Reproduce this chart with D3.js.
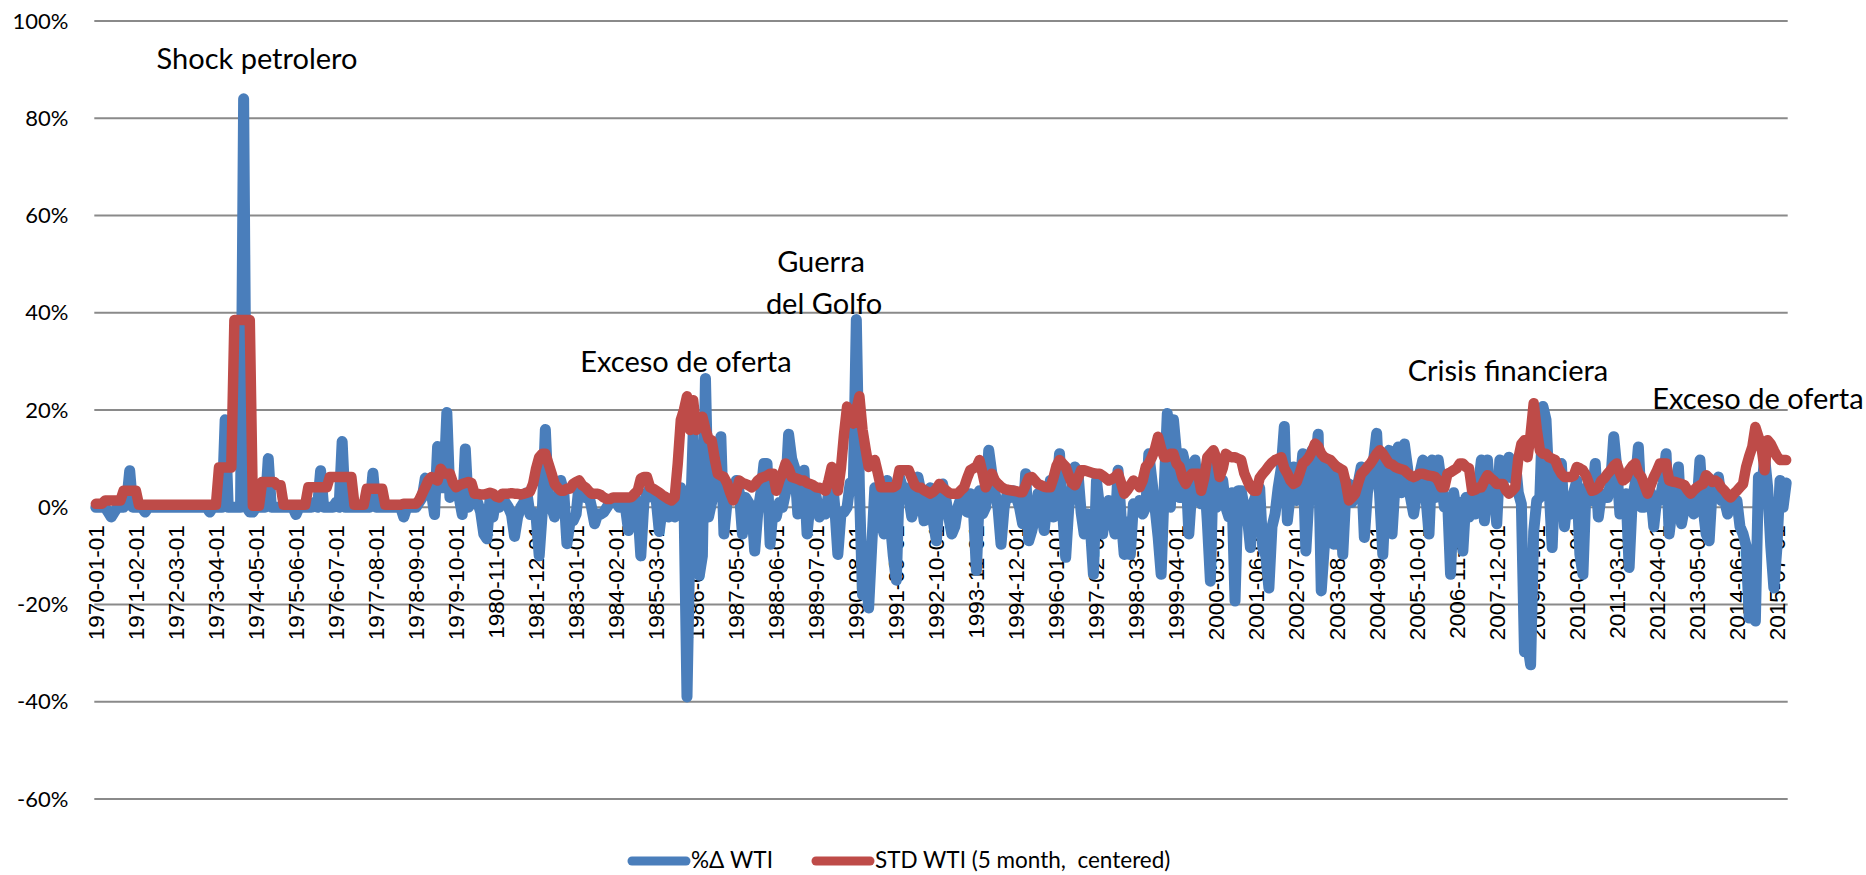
<!DOCTYPE html>
<html>
<head>
<meta charset="utf-8">
<script src="https://cdn.jsdelivr.net/npm/d3@7"></script>
<style>
body { margin: 0; background: #fff; }
svg { display: block; }
</style>
</head>
<body>
<div class="chart"></div>
<script>
// monthly series, 1970-01 .. 2015-10, values in %
var pctChange = [
  0,0,0,0,-1,-2,-1,0,0,0,1,7.5,
  0,0,0,0,-1,0,0,0,0,0,0,0,
  0,0,0,0,0,0,0,0,0,0,0,0,
  0,-1,0,0,0,0,18,0,0,0,0,0,
  84,0,-1,-1,0,0,0,0,10,0,0,0,
  0,0,0,0,0,-1.5,0,0,0,0,0,1,
  0,7.5,0,0,0,0,1,0,13.5,0,0,0,
  0,0,0,0,0,0,7,0,0,0,0,0,
  0,0,0,0,-2,0,0,0,0,1,2,6,
  4.5,3,-1.5,12.5,4,4,19.5,2,3,4,2,-1.5,
  12,0,1,1.5,1,-1,-5.5,-6.5,1.5,-2,2,0,
  1,1,0,-1.5,-6,-2,0,1,3,-1.5,-1,-2,
  -10,-1,16,1.5,0,-2,1,5.5,3,-7.5,-3,-2.8,
  -1.4,5,3.4,2,2.8,0,-3.4,-1.4,-1.4,-1,0,1,
  1.4,1,0,0,0,-4.8,0,2,0,-10,1,2.8,
  4,2,1.5,-5,0,2,-2,0,-2,4,4,2,
  -39,-5,15,-3,-14,-10,26.5,-2,1,4,6,14.5,
  -5.5,1,4,2,5.5,3,-5.5,2,1,0,-9,-1,
  3,9,9,-7.6,0,-2,1,0,3,15,10,8,
  -1.4,3,7.6,-5.5,1,4,2,-2,-1,-1.4,3,7,
  0,-9.7,-1.4,-1,0,5,4,38.6,4,-18,-10,-20.7,
  -8,4,2,-3,-5.5,5.5,-3,-10,-15,6.2,4,4,
  2,-2,0,6.2,3,-2.8,1,4,-3,-6.9,2,4.8,
  2,-2,-5.5,-4,0,2,1.4,-1,2.8,0,-13,3.4,
  -1.4,0,11.7,7,3,0,-7.6,0,2.8,2,3.4,2,
  0,-3.4,6.9,-6.9,-4.8,-2,2.8,0,-4.8,1,5.5,-2,
  2.8,11,-1,-10.3,0,3.4,8.3,7,-1,-5.5,-1.4,-4,
  -13.8,5.5,0,-5.5,0,1.4,-2,-5.5,7.6,-2,-9.7,-3,
  -9.7,0.7,0,1.4,-1.4,0,11,5.5,0,-6,-13.8,4,
  19.3,0,18,11,2,11,8.3,-5.5,4,9.7,3,0.7,
  6.9,-3,-15.2,10.3,0,1.4,5.5,0,-2,3,-19.3,3.4,
  3.4,0,-2,-8.3,1,2.8,4,-8.3,-10,-16.6,-4,-1.4,
  4,8,16.6,-2.8,3,8.3,1.4,4,11,-9,2,11.7,
  8.3,15,-17.2,-8,8.3,3,-7.6,8.3,2,-9.7,3,4.8,
  1,2.8,5,8.3,-6.2,3,6.2,9.7,15.2,2,-9.7,4,
  11.7,-5.5,5,12.4,3,13,8.3,2,-1.4,3,6.9,9.7,
  2,-5.5,9.7,2,9.7,5,0,2,-13.8,3,-1.4,1,
  -9,2,-2,3,-1.4,4,9.7,-2.8,9.7,0.7,3,-3.4,
  9.7,5,8.3,10.3,6,9.7,3,0.7,-29.7,-28,-32.4,-5,
  1.4,2,20.7,18,4,-8.3,8,8.3,9,-4,2,-1.4,
  3,5.5,-9.7,-13.8,4,4,1.4,9,-2,2.8,2,2,
  5,14.5,8,-1.4,2,2.8,-12.4,1.4,5,12.4,0,0,
  0.7,3,-4,2,1.4,5,11,-5.5,0,3,8.3,-3.4,
  0,2,2.8,-1.4,0,9.7,0,-5.5,-6.9,4,3,6.2,
  1.4,1.4,-1.4,2,0,1.4,-4,-5.5,-8,-22.8,-20,-23.4,
  6.2,3,10.3,4,-8,-16.6,-8.3,5.5,0,5
];
var stdWti = [
  0.7,0.7,0.7,1.4,1.4,1.4,1.4,1.4,1.4,3.4,3.4,3.4,
  3.4,3.4,0.5,0.5,0.5,0.5,0.5,0.5,0.5,0.5,0.5,0.5,
  0.5,0.5,0.5,0.5,0.5,0.5,0.5,0.5,0.5,0.5,0.5,0.5,
  0.5,0.5,0.5,0.5,8.2,8.2,8.2,8.2,8.2,38.5,38.5,38.5,
  38.5,38.5,38.5,0.3,0.3,0.3,5.2,5.2,5.2,5.2,5.2,4.5,
  4.5,0.5,0.5,0.5,0.5,0.5,0.5,0.5,0.5,4.1,4.1,4.1,
  4.1,4.1,4.1,4.1,6.2,6.2,6.2,6.2,6.2,6.2,6.2,6.2,
  0.5,0.5,0.5,0.5,3.8,3.8,3.8,3.8,3.8,3.8,0.5,0.5,
  0.5,0.5,0.5,0.5,0.7,0.7,0.7,0.7,0.7,1.5,2.8,4.1,
  5.5,6.2,5.8,5.5,7.9,7,6.9,6.9,5,4.1,4.5,4.8,
  5,5.2,5,2.8,2.8,2.6,2.6,2.8,3,2.8,2.2,2,
  2.8,2.8,2.8,2.9,2.8,2.8,2.6,2.8,3,3.2,4.8,8,
  10.3,11,11,9,7,4.8,4,3.4,3.4,3.8,3.8,4.8,
  5.2,5.5,4.5,4.1,3.4,2.8,2.8,2.8,2.5,2,1.7,1.7,
  2,2,2,2,2,2,2.1,2.8,3.4,5.9,6.2,6.2,
  4.1,3.8,3.4,3,2.5,2.1,1.7,1.4,2,9,18,20,
  22.8,15.9,22,15.9,18,18.6,16,14,13.8,10,6.9,6.5,
  6.2,5,3,1.4,3,5.5,5,4.8,4.5,4.1,4.6,5.5,
  6,6.2,6.5,6.9,6.9,3.4,5.5,7,9,8,6.2,6,
  5.8,5.5,5.5,5,4.8,4.5,4.1,4,3.8,3.4,5.5,8.3,
  6,3.4,8,15,20.7,19,17.2,20,22.8,16,12,8.3,
  9,9.7,7,4.1,4.1,4.1,4.1,4.1,4.5,7.6,7.6,7.6,
  7.6,6,4.5,4.1,4,3.5,3.2,2.8,3.2,3.8,4.8,4,
  3.5,3,2.8,2.8,2.8,3.5,4.1,6,7.6,8,8.3,9.7,
  7,4.1,5.5,6.9,5.5,4.8,4.2,3.8,3.6,3.5,3.4,3.3,
  3.1,3.1,4.5,6,6.2,5.5,4.8,4.5,4.2,4.1,4.1,6,
  8.5,9.7,9,8.3,6.5,5,4.5,6,7.6,7.6,7.4,7.2,
  7,6.9,6.9,6.5,6,5.5,5.8,6.2,6.9,5,2.8,3.5,
  4.5,5.5,5,4.1,5.5,8.3,9,10.3,12,14.5,12,10.3,
  10.3,11,11,9,8.3,6,4.8,6,6.9,6.9,6.9,3.4,
  6,10.3,11,11.7,10,6.2,8,11,10.5,10.3,10.3,10,
  9.7,7,5.5,4.1,3.4,3.4,6,6.9,7.6,8.5,9.2,9.7,
  10,10.3,8,6.9,5.5,4.8,5.2,7,9,9.5,10.3,11.5,
  13.1,12.5,11,10.3,10,9.7,9,8.3,8,7.6,5,1.4,
  2,2.8,5,6.9,7.5,8.3,9,10,11,11.7,11,10,
  9,8.8,8.3,8,7.8,7.6,7,6.5,6.2,6.5,6.9,6.9,
  6.7,6.5,6.4,6.2,5.5,4.1,4.1,6.9,7.2,7.6,8,9,
  9,8.3,8,3.4,3.6,4,4.1,5.5,6.6,6,5.5,4.8,
  4.8,4.8,3.5,2.8,3.4,4.1,10,13,13.8,10.3,15,21.4,
  16,11.7,11,11,10.3,10,9.7,8,6.9,6.2,6.2,6.2,
  6.5,8.3,8,7.6,6.5,4.8,3.4,3.6,4.1,5.5,6,6.9,
  7.6,8.5,9,7,5.5,6,7.6,8.5,9,7,6.2,4.5,
  2.8,4.5,6.2,7.5,9,9,9,5.5,5.3,5.2,5,4.8,
  4.5,3.5,2.8,3.5,4.1,4.5,4.8,6.6,6,5.2,5.5,5,
  4,3.4,2.5,2,2.8,3.4,4.1,4.8,8.3,10.5,12.4,16.5,
  14.5,12.4,7.6,13.8,13,11.7,10.5,9.7,9.7,9.7
];
var yTicks = [-60, -40, -20, 0, 20, 40, 60, 80, 100];
var tickLabels = ["1970-01-01","1971-02-01","1972-03-01","1973-04-01","1974-05-01",
  "1975-06-01","1976-07-01","1977-08-01","1978-09-01","1979-10-01","1980-11-01",
  "1981-12-01","1983-01-01","1984-02-01","1985-03-01","1986-04-01","1987-05-01",
  "1988-06-01","1989-07-01","1990-08-01","1991-09-01","1992-10-01","1993-11-01",
  "1994-12-01","1996-01-01","1997-02-01","1998-03-01","1999-04-01","2000-05-01",
  "2001-06-01","2002-07-01","2003-08-01","2004-09-01","2005-10-01","2006-11-01",
  "2007-12-01","2009-01-01","2010-02-01","2011-03-01","2012-04-01","2013-05-01",
  "2014-06-01","2015-07-01"];
var seriesNames = ["%\u0394 WTI", "STD WTI (5 month,  centered)"];
var seriesColors = ["#4a7ebb", "#be4b48"];
var notes = ["Shock petrolero", "Guerra", "del Golfo", "Exceso de oferta", "Crisis financiera", "Exceso de oferta"];

var svgWidth = 1866;
var svgHeight = 875;
var fmt = d3.timeFormat("%Y-%m-01");
var months = d3.timeMonth.range(new Date(1970, 0, 1), new Date(2015, 10, 1)).map(fmt);

var svg = d3.select(".chart").append("svg")
  .attr("width", svgWidth)
  .attr("height", svgHeight);

var xScale = d3.scaleBand().domain(months).range([94.3, 1787.7]);
var yScale = d3.scaleLinear().domain([-60, 100]).range([799, 21]);
var bw = xScale.bandwidth();
function xc(m) { return xScale(m) + bw / 2; }

// gridlines
svg.append("g").selectAll("line")
  .data(yTicks).enter().append("line")
  .attr("x1", 94.3).attr("x2", 1787.7)
  .attr("y1", d => yScale(d)).attr("y2", d => yScale(d))
  .attr("stroke", "#8a8a8a").attr("stroke-width", 2.2);

// y axis labels
var yAxis = svg.append("g")
  .attr("transform", "translate(94.3,0)")
  .call(d3.axisLeft(yScale).tickValues(yTicks).tickSize(0).tickPadding(26).tickFormat(d => d + "%"));
yAxis.select(".domain").remove();
yAxis.selectAll("text")
  .style("font-family", "Lato, 'Open Sans', sans-serif")
  .style("font-size", "22px")
  .attr("fill", "#000");

// x axis labels
var xAxis = svg.append("g")
  .attr("transform", `translate(0, ${yScale(0)})`)
  .call(d3.axisBottom(xScale).tickValues(tickLabels).tickSize(0));
xAxis.select(".domain").remove();
xAxis.selectAll("text")
  .attr("transform", "rotate(-90)")
  .attr("x", -18)
  .attr("y", 0)
  .attr("dy", "0.35em")
  .style("text-anchor", "end")
  .style("font-family", "'Liberation Sans', Arial, sans-serif")
  .style("font-size", "22.5px")
  .attr("fill", "#000");

// series
var line = d3.line()
  .x((d, i) => xc(months[i]))
  .y(d => yScale(d));

svg.append("path")
  .datum(pctChange)
  .attr("d", line)
  .attr("fill", "none")
  .attr("stroke", seriesColors[0])
  .attr("stroke-width", 11)
  .attr("stroke-linejoin", "round")
  .attr("stroke-linecap", "round");

svg.append("path")
  .datum(stdWti)
  .attr("d", line)
  .attr("fill", "none")
  .attr("stroke", seriesColors[1])
  .attr("stroke-width", 10.5)
  .attr("stroke-linejoin", "round")
  .attr("stroke-linecap", "round");

// annotations
var notePos = [[257, 69], [821, 272], [824, 314], [686, 372], [1508, 381], [1758, 409]];
svg.append("g").selectAll("text")
  .data(notes).enter().append("text")
  .attr("x", (d, i) => notePos[i][0])
  .attr("y", (d, i) => notePos[i][1])
  .attr("text-anchor", "middle")
  .style("font-family", "Lato, 'Open Sans', sans-serif")
  .style("font-size", "29px")
  .attr("fill", "#000")
  .text(d => d);

// legend
var legend = svg.append("g");
var legX = [632, 816];
seriesNames.forEach(function(name, i) {
  legend.append("line")
    .attr("x1", legX[i]).attr("x2", legX[i] + 54)
    .attr("y1", 861).attr("y2", 861)
    .attr("stroke", seriesColors[i])
    .attr("stroke-width", 9)
    .attr("stroke-linecap", "round");
  legend.append("text")
    .attr("x", legX[i] + 59)
    .attr("y", 868)
    .style("font-family", "Lato, 'Open Sans', sans-serif")
    .style("font-size", "22.5px")
    .style("white-space", "pre")
    .attr("fill", "#000")
    .text(name);
});
</script>
</body>
</html>
